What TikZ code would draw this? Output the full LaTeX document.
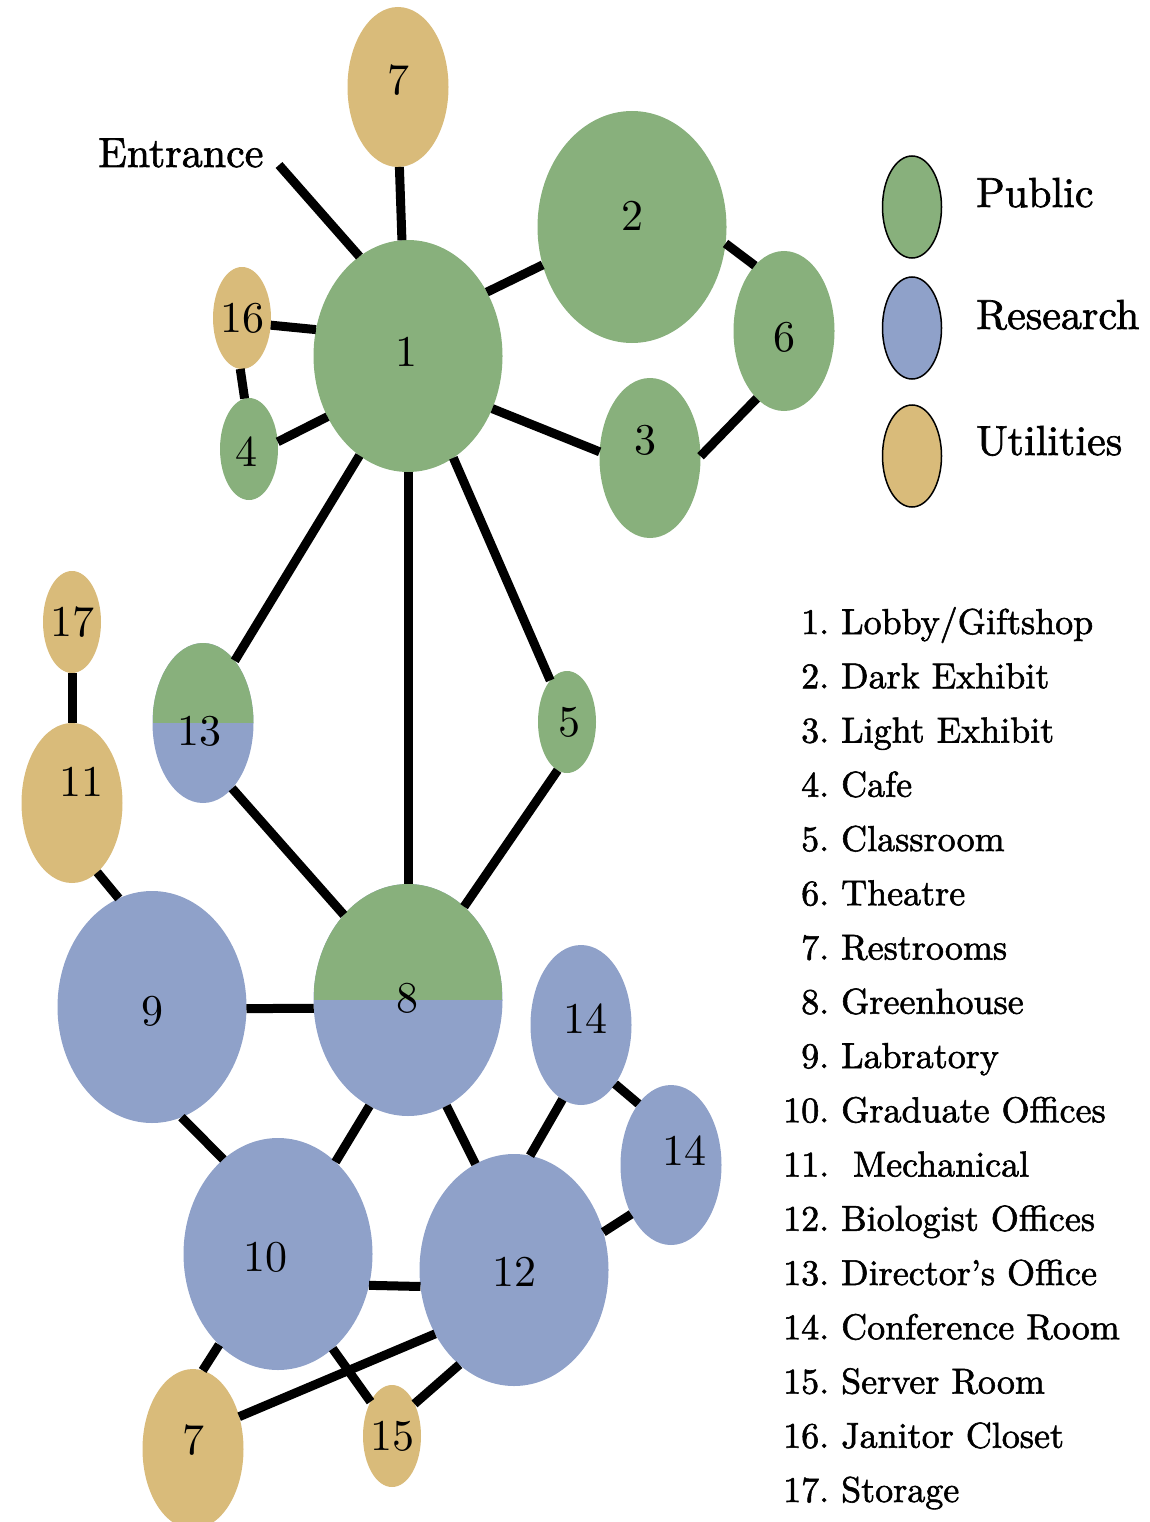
\documentclass[tikz,border=0pt]{standalone}
\usepackage{fontspec}
\setmainfont{lmroman10-regular}[Extension=.otf]
\newfontfamily\heavylm{lmroman10-regular}[Extension=.otf,FakeBold=1.6]
\usepackage{xcolor}
\usetikzlibrary{shapes.geometric}
\definecolor{pubgreen}{RGB}{136,176,124}
\definecolor{resblue}{RGB}{143,161,201}
\definecolor{utiltan}{RGB}{217,187,122}

\begin{document}
\begin{tikzpicture}
	[x=1pt,y=-1pt,
	room/.style={ellipse,inner sep=0pt,outer sep=0pt,draw=none},
	big/.style={room,minimum width=189pt,minimum height=232pt},
	mid/.style={room,minimum width=101pt,minimum height=160pt},
	small/.style={room,minimum width=58pt,minimum height=102pt},
	pub/.style={fill=pubgreen},
	res/.style={fill=resblue},
	util/.style={fill=utiltan},
	mixed/.style={fill=resblue,path picture={\fill[pubgreen] (path picture bounding box.west) rectangle (path picture bounding box.north east);}},
	num/.style={inner sep=0pt,font=\fontsize{44}{50}\selectfont},
	link/.style={line width=9pt},
	keyitem/.style={room,draw=black,line width=1.5pt,minimum width=59pt,minimum height=102pt},
	keytext/.style={inner sep=0pt,anchor=base west,font=\heavylm\fontsize{42}{50}\selectfont}]
	\clip (0,0) rectangle (1150,1522);
	% rooms
	\node[big,pub,label={[num,xshift=-2pt,yshift=4pt]center:1}] (n1) at (408,356) {};
	\node[big,pub,label={[num,yshift=11pt]center:2}] (n2) at (632,227) {};
	\node[mid,pub,label={[num,xshift=-5pt,yshift=18pt]center:3}] (n3) at (650,458) {};
	\node[small,pub,label={[num,xshift=-3pt,yshift=-3pt]center:4}] (n4) at (249,449) {};
	\node[small,pub,label={[num,xshift=2pt]center:5}] (n5) at (567,722) {};
	\node[mid,pub,label={[num,yshift=-6pt]center:6}] (n6) at (784,331) {};
	\node[mid,util,label={[num,yshift=7pt]center:7}] (n7a) at (398,87) {};
	\node[small,util,label={[num]center:16}] (n16) at (242,318) {};
	\node[small,util,label={[num]center:17}] (n17) at (72,622) {};
	\node[mid,util,label={[num,xshift=9pt,yshift=21pt]center:11}] (n11) at (72,803) {};
	\node[mid,mixed,label={[num,xshift=-4pt,yshift=-8pt]center:13}] (n13) at (203,723) {};
	\node[big,mixed,label={[num,xshift=-1pt,yshift=2pt]center:8}] (n8) at (408,1000) {};
	\node[big,res,label={[num,yshift=-4pt]center:9}] (n9) at (152,1007) {};
	\node[mid,res,label={[num,xshift=4pt,yshift=6pt]center:14}] (n14a) at (581,1025) {};
	\node[mid,res,label={[num,xshift=13pt,yshift=14pt]center:14}] (n14b) at (671,1165) {};
	\node[big,res,label={[num,xshift=-13pt,yshift=-3pt]center:10}] (n10) at (278,1254) {};
	\node[big,res,label={[num,yshift=-2pt]center:12}] (n12) at (514,1270) {};
	\node[mid,util,label={[num,yshift=9pt]center:7}] (n7b) at (193,1449) {};
	\node[small,util,label={[num]center:15}] (n15) at (392,1436) {};
	% entrance
	\node[keytext] (entrance) at (98,167) {Entrance};
	\coordinate (door) at (279,165);
	% connections
	\draw[link] (door) -- (n1.116);
	\draw[link] (n7a.271) -- (n1.93);
	\draw[link] (n1.39) -- (n2.203);
	\draw[link] (n2.-10) -- (n6.114);
	\draw[link] (n16.346) -- (n1.164);
	\draw[link] (n16.268) -- (n4.95);
	\draw[link] (n4.14) -- (n1.217);
	\draw[link] (n1.-32) -- (n3.173);
	\draw[link] (n3.2) -- (n6.248);
	\draw[link] (n1.244) -- (n13.63);
	\draw[link] (n1) -- (n8);
	\draw[link] (n1.294) -- (n5.112);
	\draw[link] (n5.259) -- (n8.59);
	\draw[link] (n13.294) -- (n8.127);
	\draw[link] (n17) -- (n11);
	\draw[link] (n11.290) -- (n9.107);
	\draw[link] (n9.-1) -- (n8.185);
	\draw[link] (n9.285) -- (n10.120);
	\draw[link] (n8.250) -- (n10.58);
	\draw[link] (n8.290) -- (n12.110);
	\draw[link] (n12.82) -- (n14a.256);
	\draw[link] (n14a.300) -- (n14b.118);
	\draw[link] (n12.23) -- (n14b.231);
	\draw[link] (n10.-19) -- (n12.190);
	\draw[link] (n10.237) -- (n7b.83);
	\draw[link] (n12.219) -- (n7b.35);
	\draw[link] (n10.300) -- (n15.122);
	\draw[link] (n12.240) -- (n15.55);
	% key
	\node[keyitem,fill=pubgreen] (keypub) at (912,207) {};
	\node[keyitem,fill=resblue] (keyres) at (912,328) {};
	\node[keyitem,fill=utiltan] (keyutil) at (912,456) {};
	\node[keytext] (pubtext) at (976,207) {Public};
	\node[keytext] (restext) at (976,329) {Research};
	\node[keytext] (utiltext) at (976,455) {Utilities};
	% room list
	\node[inner sep=0pt,anchor=base west] (roomlist) at (783,634) {\heavylm\fontsize{36}{54.25}\selectfont
		\begin{tabular}[t]{@{}r@{\ }l@{}}
			1. & Lobby/Giftshop\\
			2. & Dark Exhibit\\
			3. & Light Exhibit\\
			4. & Cafe\\
			5. & Classroom\\
			6. & Theatre\\
			7. & Restrooms\\
			8. & Greenhouse\\
			9. & Labratory\\
			10. & Graduate Offices\\
			11. & \ Mechanical\\
			12. & Biologist Offices\\
			13. & Director’s Office\\
			14. & Conference Room\\
			15. & Server Room\\
			16. & Janitor Closet\\
			17. & Storage
		\end{tabular}};
\end{tikzpicture}
\end{document}
